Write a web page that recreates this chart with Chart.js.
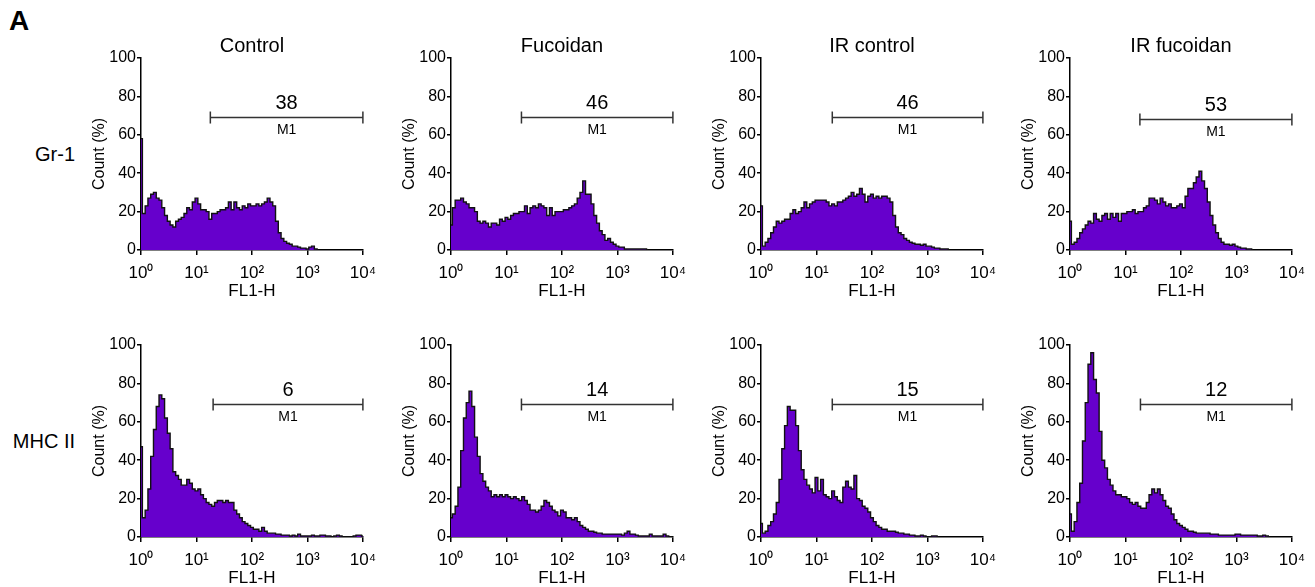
<!DOCTYPE html>
<html>
<head>
<meta charset="utf-8">
<script src="https://cdn.jsdelivr.net/npm/chart.js@4.4.1/dist/chart.umd.min.js"></script>
<style>
body { margin: 0; background: #fff; width: 1315px; height: 587px; position: relative; overflow: hidden; font-family: "Liberation Sans", Arial, sans-serif; }
canvas { position: absolute; }
.lbl { position: absolute; font-size: 20px; color: #000; white-space: nowrap; }
</style>
</head>
<body>
<div class="lbl" style="left:9px;top:5px;font-size:28px;font-weight:bold">A</div>
<div class="lbl" style="right:1240px;top:143px">Gr-1</div>
<div class="lbl" style="right:1240px;top:430px">MHC II</div>
<script>
// FL1-H bins, in decades (10^0 .. 10^4)
const logBins = [
    0, 0.05, 0.1, 0.15, 0.2, 0.25, 0.3, 0.35, 0.4, 0.45,
    0.5, 0.55, 0.6, 0.65, 0.7, 0.75, 0.8, 0.85, 0.9, 0.95,
    1, 1.05, 1.1, 1.15, 1.2, 1.25, 1.3, 1.35, 1.4, 1.45,
    1.5, 1.55, 1.6, 1.65, 1.7, 1.75, 1.8, 1.85, 1.9, 1.95,
    2, 2.05, 2.1, 2.15, 2.2, 2.25, 2.3, 2.35, 2.4, 2.45,
    2.5, 2.55, 2.6, 2.65, 2.7, 2.75, 2.8, 2.85, 2.9, 2.95,
    3, 3.05, 3.1, 3.15, 3.2, 3.25, 3.3, 3.35, 3.4, 3.45,
    3.5, 3.55, 3.6, 3.65, 3.7, 3.75, 3.8, 3.85, 3.9, 3.95,
    4
];

const panelTitles = ['Control', 'Fucoidan', 'IR control', 'IR fucoidan'];
const xTickLabels = ['10⁰', '10¹', '10²', '10³', '10⁴'];

// Count (%) per bin
const gr1Control = [58, 19, 23, 27, 29, 30, 27, 26, 22, 18,
    15, 13, 12, 15, 16, 17, 19, 22, 21, 25,
    27, 24, 21, 21, 20, 16, 19, 19, 20, 21,
    21, 22, 25, 21, 25, 22, 21, 23, 22, 24,
    23, 23, 24, 23, 24, 25, 27, 25, 23, 15,
    9, 6, 4.5, 3.5, 3, 2, 2, 1.5, 1, 1,
    0.5, 1.5, 2, 0.5, 0];
const gr1Fucoidan = [13, 22, 26, 26, 27, 25, 24, 22, 22, 20,
    15, 14, 15, 14, 12, 14, 14, 13, 16, 15,
    17, 16, 18, 19, 19, 20, 20, 23, 19, 22,
    23, 22, 24, 23, 22, 18, 22, 18, 20, 20,
    20, 21, 21, 22, 23, 24, 27, 30, 36, 29,
    29, 24, 18, 14, 10, 8, 5, 6, 4, 3,
    2, 1.5, 1.5, 0.5, 0.5, 0.5, 0.5, 0.5, 0.5, 0.5, 0.5, 0];
const gr1IrControl = [23, 2, 4, 6, 9, 12, 15, 14, 15, 16,
    16, 19, 21, 19, 20, 22, 25, 22, 24, 25,
    26, 26, 26, 26, 25, 23, 24, 23, 25, 25,
    26, 27, 28, 30, 28, 29, 32, 29, 25, 28,
    29, 27, 28, 27, 28, 28, 27, 25, 18, 12,
    9, 8, 6, 5, 4, 3.5, 3, 3, 2.5, 3,
    2, 2, 1.5, 1, 1, 0.5, 0.5, 0.5, 0];
const gr1IrFucoidan = [15, 3, 4, 6, 9, 11, 13, 15, 14, 19,
    16, 15, 18, 19, 16, 19, 17, 19, 15, 19,
    19, 20, 20, 21, 19, 20, 20, 22, 23, 27,
    27, 26, 24, 27, 25, 23, 24, 22, 22, 23,
    24, 22, 28, 32, 32, 35, 38, 41, 36, 32,
    25, 18, 13, 9, 6, 4, 3, 3, 2.5, 3,
    2, 1.5, 1, 1, 0.5, 0.5, 0];
const mhcControl = [47, 10, 14, 25, 42, 56, 68, 74, 72, 62,
    54, 46, 34, 32, 30, 27, 27, 30, 28, 25,
    24, 25, 22, 20, 18, 17, 16, 18, 19, 19,
    18, 19, 18, 18, 14, 12, 10, 8, 7, 6,
    5, 4, 4, 3, 5, 3, 2, 2, 2, 1.5,
    1.5, 1, 1, 1, 0.5, 1, 0.5, 1.5, 0.5, 0.5,
    0.5, 0.5, 1, 0.5, 0.5, 1, 1, 0.5, 0.5, 0,
    0.5, 1, 0.5, 0, 0, 0, 0, 0.5, 1, 1, 0.5];
const mhcFucoidan = [10, 12, 16, 26, 45, 62, 70, 76, 68, 52,
    42, 33, 29, 26, 24, 21, 22, 21, 22, 21,
    22, 21, 20, 21, 20, 19, 21, 19, 17, 14,
    14, 13, 14, 16, 19, 18, 16, 14, 13, 11,
    14, 13, 10, 10, 9, 10, 8, 6, 5, 4,
    3, 3, 2.5, 2, 2, 1.5, 1.5, 1.5, 1.5, 1.5,
    1.5, 1.5, 1, 2, 3, 1.5, 1.5, 1, 0.5, 0.5,
    0.5, 0.5, 1.5, 0.5, 0.5, 0.5, 0.5, 1.5, 0.5, 0, 0];
const mhcIrControl = [7, 2, 3, 6, 8, 12, 18, 30, 46, 58,
    68, 66, 66, 58, 45, 35, 30, 27, 25, 23,
    31, 24, 30, 22, 21, 20, 24, 21, 19, 18,
    26, 29, 26, 25, 32, 20, 19, 16, 15, 13,
    10, 8, 6, 5, 4, 4, 3, 3, 3, 2.5,
    2, 2, 1.5, 1.5, 1, 1, 0.5, 0.5, 1, 0.5,
    0, 0, 0.5, 0.5, 0];
const mhcIrFucoidan = [12, 3, 8, 18, 28, 50, 70, 90, 96, 82,
    75, 55, 40, 36, 30, 27, 24, 22, 22, 21,
    21, 20, 18, 17, 18, 16, 15, 15, 18, 22,
    25, 23, 25, 22, 19, 16, 15, 12, 9, 7,
    6, 5, 4, 3, 3, 2.5, 2, 2, 2, 2,
    2, 1.5, 1.5, 1.5, 1, 1, 1, 1, 1, 1,
    1.5, 1.5, 1, 1, 1, 1, 1, 1, 0.5, 0.5,
    1, 0.5, 0];

// M1 marker: start (decades), height (%), percent label
const gateStart = [1.25, 1.27, 1.285, 1.26, 1.3, 1.27, 1.285, 1.27];
const gateLevel = [69, 69, 69, 68, 69, 69, 69, 69];
const gateLabels = ['38', '46', '46', '53', '6', '14', '15', '12'];

const series = [gr1Control, gr1Fucoidan, gr1IrControl, gr1IrFucoidan,
    mhcControl, mhcFucoidan, mhcIrControl, mhcIrFucoidan];

const colLeft = [141, 451, 761, 1070];
const rowTop = [58, 345];
const headH = 48;
const fontFam = '"Liberation Sans", Arial, sans-serif';

Chart.defaults.font.family = fontFam;
Chart.defaults.color = '#000';

const gatePlugin = {
    id: 'gate',
    afterDatasetsDraw(chart, args, opts) {
        const ctx = chart.ctx;
        const cx = chart.scales.x.getPixelForValue((opts.from + 4) / 2);
        const cy = chart.scales.y.getPixelForValue(opts.level);
        ctx.save();
        ctx.fillStyle = '#000';
        ctx.textAlign = 'center';
        ctx.textBaseline = 'middle';
        ctx.font = '20px ' + fontFam;
        ctx.fillText(opts.label, cx, cy - 14);
        ctx.font = '14px ' + fontFam;
        ctx.fillText('M1', cx, cy + 13);
        ctx.restore();
    }
};

for (let i = 0; i < series.length; i++) {
    const row = Math.floor(i / 4);
    const col = i % 4;
    const cv = document.createElement('canvas');
    cv.width = 313;
    cv.height = headH + 192 + 50;
    cv.style.left = (colLeft[col] - 70) + 'px';
    cv.style.top = (rowTop[row] - headH) + 'px';
    document.body.appendChild(cv);

    const hist = series[i].map((v, k) => ({ x: logBins[k], y: v }));

    new Chart(cv, {
        type: 'line',
        data: {
            datasets: [
                {
                    data: hist,
                    stepped: 'middle',
                    fill: 'origin',
                    backgroundColor: '#6600cc',
                    borderColor: '#111',
                    borderWidth: 1.4,
                    pointRadius: 0,
                },
                {
                    data: [{ x: gateStart[i], y: gateLevel[i] }, { x: 4, y: gateLevel[i] }],
                    borderColor: '#333',
                    borderWidth: 1.5,
                    pointStyle: 'line',
                    pointRotation: 90,
                    pointRadius: 6,
                    pointBorderColor: '#333',
                    pointBorderWidth: 1.5,
                    fill: false,
                    clip: false,
                },
            ],
        },
        options: {
            responsive: false,
            animation: false,
            devicePixelRatio: 1,
            layout: { padding: { left: 0, right: 12, top: row === 0 ? 0 : headH, bottom: 0 } },
            plugins: {
                legend: { display: false },
                tooltip: { enabled: false },
                title: {
                    display: row === 0,
                    fullSize: false,
                    text: panelTitles[col],
                    font: { size: 20, weight: 'normal' },
                    color: '#000',
                    padding: { top: headH - 24, bottom: 0 },
                },
                gate: { from: gateStart[i], level: gateLevel[i], label: gateLabels[i] },
            },
            scales: {
                x: {
                    type: 'linear',
                    min: 0,
                    max: 4,
                    afterFit: (s) => { s.height = 50; },
                    grid: { drawOnChartArea: false, drawTicks: true, tickLength: 5, color: '#000', lineWidth: 1.5 },
                    border: { color: '#000', width: 1.5 },
                    ticks: {
                        stepSize: 1,
                        padding: 8,
                        autoSkip: false,
                        maxRotation: 0,
                        font: { size: 17 },
                        color: '#000',
                        callback: function (value) {
                            return xTickLabels[value];
                        },
                    },
                    title: { display: true, text: 'FL1-H', font: { size: 17 }, color: '#000', padding: { top: 0, bottom: -2 } },
                },
                y: {
                    min: 0,
                    max: 100,
                    afterFit: (s) => { s.width = 70; },
                    grid: { drawOnChartArea: false, drawTicks: true, tickLength: 4, color: '#000', lineWidth: 1.5 },
                    border: { color: '#000', width: 1.5 },
                    ticks: { stepSize: 20, padding: 1, font: { size: 16 }, color: '#000' },
                    title: { display: true, text: 'Count (%)', font: { size: 16 }, color: '#000', padding: { top: 19, bottom: 0 } },
                },
            },
        },
        plugins: [gatePlugin],
    });
}
</script>
</body>
</html>
